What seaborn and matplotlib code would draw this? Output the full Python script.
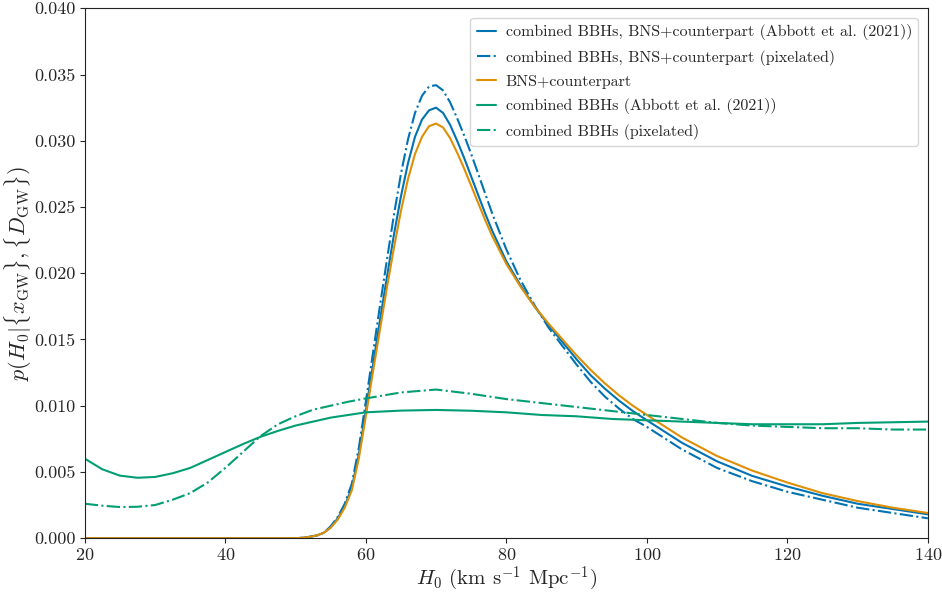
import matplotlib
matplotlib.use("Agg")
import matplotlib.pyplot as plt
import seaborn as sns

# H0 grid for the peaked posteriors
h0 = [20, 30, 40, 50, 51, 52, 53, 54, 55, 56, 57, 58, 59, 60, 61, 62, 63, 64, 65, 66, 67,
      68, 69, 70, 71, 72, 73, 74, 75, 76, 77, 78, 80, 82, 84, 86, 88, 90, 92, 94, 96, 98,
      100, 105, 110, 115, 120, 125, 130, 135, 140]
bns = [0, 0, 0, 0, 0.00003, 0.0001, 0.0002, 0.0004, 0.0008, 0.0014, 0.0023, 0.0036, 0.0060,
       0.0092, 0.0125, 0.0157, 0.0189, 0.0219, 0.0247, 0.0271, 0.0290, 0.0303, 0.0311,
       0.0313, 0.0310, 0.0302, 0.0291, 0.0279, 0.0266, 0.0253, 0.0240, 0.0228, 0.0207,
       0.0190, 0.0175, 0.0162, 0.0150, 0.0138, 0.0127, 0.0117, 0.0108, 0.0100, 0.0093,
       0.0076, 0.0062, 0.0051, 0.0042, 0.0034, 0.0028, 0.0023, 0.0019]
comb_abbott = [0, 0, 0, 0, 0.00003, 0.0001, 0.0002, 0.0004, 0.0008, 0.0015, 0.0024, 0.0038,
               0.0063, 0.0096, 0.0130, 0.0164, 0.0197, 0.0229, 0.0258, 0.0283, 0.0303,
               0.0316, 0.0323, 0.0325, 0.0321, 0.0312, 0.0300, 0.0287, 0.0273, 0.0259,
               0.0245, 0.0232, 0.0209, 0.0191, 0.0175, 0.0161, 0.0148, 0.0135, 0.0123,
               0.0113, 0.0104, 0.0096, 0.0089, 0.0072, 0.0058, 0.0047, 0.0039, 0.0032,
               0.0026, 0.0022, 0.0018]
comb_pix = [0, 0, 0, 0, 0.00003, 0.0001, 0.0002, 0.0004, 0.0009, 0.0016, 0.0026, 0.0041,
            0.0068, 0.0103, 0.0139, 0.0175, 0.0210, 0.0244, 0.0275, 0.0301, 0.0321, 0.0334,
            0.0341, 0.0342, 0.0338, 0.0329, 0.0317, 0.0304, 0.0290, 0.0275, 0.0260, 0.0245,
            0.0218, 0.0195, 0.0176, 0.0159, 0.0145, 0.0131, 0.0118, 0.0107, 0.0098, 0.0090,
            0.0084, 0.0067, 0.0053, 0.0043, 0.0035, 0.0029, 0.0023, 0.0019, 0.0015]

# H0 grid for the BBH-only posteriors
h0_bbh = [20, 22.5, 25, 27.5, 30, 32.5, 35, 37.5, 40, 42.5, 45, 47.5, 50, 52.5, 55, 57.5,
          60, 65, 70, 75, 80, 85, 90, 95, 100, 105, 110, 115, 120, 125, 130, 135, 140]
bbh_abbott = [0.0060, 0.0052, 0.00472, 0.00456, 0.00462, 0.0049, 0.0053, 0.0059, 0.0065,
              0.0071, 0.00765, 0.0081, 0.0085, 0.0088, 0.0091, 0.0093, 0.0095, 0.00963,
              0.00968, 0.00962, 0.0095, 0.0093, 0.0092, 0.0090, 0.0089, 0.0088, 0.0087,
              0.0086, 0.0086, 0.0086, 0.0087, 0.00875, 0.0088]
bbh_pix = [0.0026, 0.00245, 0.00235, 0.00237, 0.0025, 0.0029, 0.0034, 0.0042, 0.0053,
           0.0065, 0.0077, 0.0086, 0.0092, 0.0097, 0.0100, 0.0103, 0.01055, 0.0110,
           0.01122, 0.0109, 0.0105, 0.0102, 0.0099, 0.0096, 0.0093, 0.0090, 0.0087,
           0.0085, 0.0084, 0.0083, 0.0083, 0.0082, 0.0082]

sns.set_style("ticks")
plt.rcParams["font.family"] = ["cmr10", "DejaVu Serif"]
plt.rcParams["mathtext.fontset"] = "cm"
plt.rcParams["axes.unicode_minus"] = False
plt.rcParams["axes.formatter.use_mathtext"] = True

pal = sns.color_palette("colorblind")
blue, orange, green = pal[0], pal[1], pal[2]

fig = plt.figure(figsize=(9.42, 5.94), dpi=100)
ax = fig.add_axes([0.090, 0.094, 0.895, 0.892])

lw = 1.5
sns.lineplot(x=h0, y=comb_abbott, ax=ax, color=blue, lw=lw,
             label="combined BBHs, BNS+counterpart (Abbott et al. (2021))")
sns.lineplot(x=h0, y=comb_pix, ax=ax, color=blue, lw=lw, linestyle="-.",
             label="combined BBHs, BNS+counterpart (pixelated)")
sns.lineplot(x=h0, y=bns, ax=ax, color=orange, lw=lw, label="BNS+counterpart")
sns.lineplot(x=h0_bbh, y=bbh_abbott, ax=ax, color=green, lw=lw,
             label="combined BBHs (Abbott et al. (2021))")
sns.lineplot(x=h0_bbh, y=bbh_pix, ax=ax, color=green, lw=lw, linestyle="-.",
             label="combined BBHs (pixelated)")

ax.set_xlim(20, 140)
ax.set_ylim(0, 0.04)
ax.set_xticks([20, 40, 60, 80, 100, 120, 140])
ax.set_yticks([0.0, 0.005, 0.01, 0.015, 0.02, 0.025, 0.03, 0.035, 0.04])
ax.set_yticklabels(["0.000", "0.005", "0.010", "0.015", "0.020", "0.025",
                    "0.030", "0.035", "0.040"])
ax.tick_params(labelsize=13, pad=3)
ax.set_xlabel(r"$H_0$ (km s$^{-1}$ Mpc$^{-1}$)", fontsize=15, labelpad=1)
ax.set_ylabel(r"$p(H_0|\{x_{\mathrm{GW}}\},\{D_{\mathrm{GW}}\})$", fontsize=16,
              labelpad=0)
for s in ax.spines.values():
    s.set_color("#222222")
ax.legend(loc="upper right", fontsize=11.5, frameon=True, handlelength=1.2,
          handletextpad=0.6, labelspacing=0.58, borderaxespad=0.6, borderpad=0.4)

fig.savefig("out.png", dpi=100)
